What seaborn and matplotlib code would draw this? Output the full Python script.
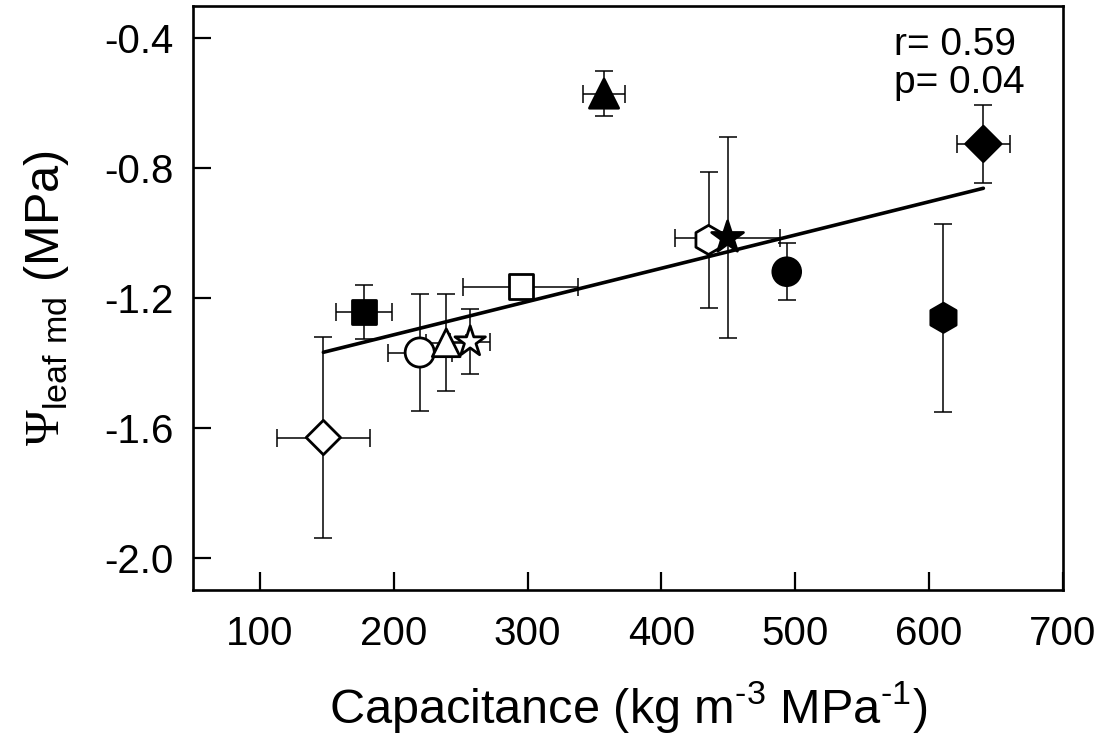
import numpy as np
import pandas as pd
import matplotlib
matplotlib.use("Agg")
import matplotlib.pyplot as plt
import seaborn as sns

# ---- data ----
species = ["sp01", "sp02", "sp03", "sp04", "sp05", "sp06",
           "sp07", "sp08", "sp09", "sp10", "sp11", "sp12"]
capacitance = [147.4, 177.6, 219.4, 239.2, 257.1, 295.0,
               357.1, 435.2, 449.4, 493.6, 610.7, 640.5]
psi_leaf_md = [-1.63, -1.244, -1.368, -1.338, -1.335, -1.165,
               -0.570, -1.021, -1.014, -1.119, -1.261, -0.725]
cap_err = [35, 21, 24, 15, 15, 43, 16, 8, 39, 5, 5, 20]
psi_err = [0.31, 0.083, 0.18, 0.15, 0.10, 0.02, 0.07, 0.21, 0.31, 0.088, 0.29, 0.12]
marker_shape = ["D", "s", "o", "^", "*", "s", "^", "h", "*", "o", "h", "D"]
marker_fill = ["white", "black", "white", "white", "white", "white",
               "black", "white", "black", "black", "black", "black"]
marker_area = [17.5, 17.5, 21, 20, 23, 17.5, 21, 21, 24, 20, 21, 18]

x_ticks = [100, 200, 300, 400, 500, 600, 700]
y_ticks = [-2.0, -1.6, -1.2, -0.8, -0.4]
stat_r = "r= 0.59"
stat_p = "p= 0.04"

df = pd.DataFrame({"species": species, "cap": capacitance, "psi": psi_leaf_md})

sns.set_style("white")
plt.rcParams["font.family"] = ["Liberation Sans", "DejaVu Sans"]
plt.rcParams["mathtext.fontset"] = "custom"
plt.rcParams["mathtext.rm"] = "Liberation Sans"
plt.rcParams["mathtext.cal"] = "Liberation Serif"
plt.rcParams["text.color"] = "black"
plt.rcParams["axes.labelcolor"] = "black"

fig = plt.figure(figsize=(11.07, 7.38), dpi=100)
ax = fig.add_axes([193 / 1107, 1 - 590 / 738, (1063 - 193) / 1107, (590 - 6) / 738])

# error bars
ax.errorbar(df["cap"], df["psi"], xerr=cap_err, yerr=psi_err, fmt="none",
            ecolor="black", elinewidth=1.1, capsize=6.5, capthick=1.1, zorder=2)

# markers
sns.scatterplot(data=df, x="cap", y="psi", hue="species", style="species",
                size="species",
                palette=dict(zip(species, marker_fill)),
                markers=dict(zip(species, marker_shape)),
                sizes={s: a ** 2 for s, a in zip(species, marker_area)},
                edgecolor="black", linewidth=2.0, legend=False, zorder=3, ax=ax)

# regression line
sns.regplot(data=df, x="cap", y="psi", scatter=False, ci=None, truncate=True,
            line_kws={"color": "black", "lw": 2.6, "zorder": 4}, ax=ax)

ax.set_xlim(50, 700)
ax.set_ylim(-2.1, -0.3)
ax.set_xticks(x_ticks)
ax.set_yticks(y_ticks)
ax.set_yticklabels([f"{v:.1f}" for v in y_ticks])
ax.tick_params(direction="in", length=13, width=1.6, labelsize=29,
               colors="black", bottom=True, left=True, top=False, right=False)
ax.tick_params(axis="x", pad=18)
ax.tick_params(axis="y", pad=14)
for sp in ax.spines.values():
    sp.set_visible(True)
    sp.set_linewidth(1.9)
    sp.set_color("black")

ax.set_xlabel(r"Capacitance (kg m$^{\text{-3}}$ MPa$^{\text{-1}}$)", fontsize=35, labelpad=19)
ax.set_ylabel(r"$\mathcal{\Psi}_{\mathrm{leaf\ md}}$ (MPa)", fontsize=35, labelpad=24)

ax.text(573.5, -0.421, stat_r, fontsize=28, va="center", ha="left")
ax.text(573.5, -0.536, stat_p, fontsize=28, va="center", ha="left")

fig.savefig("out.png", dpi=100)
